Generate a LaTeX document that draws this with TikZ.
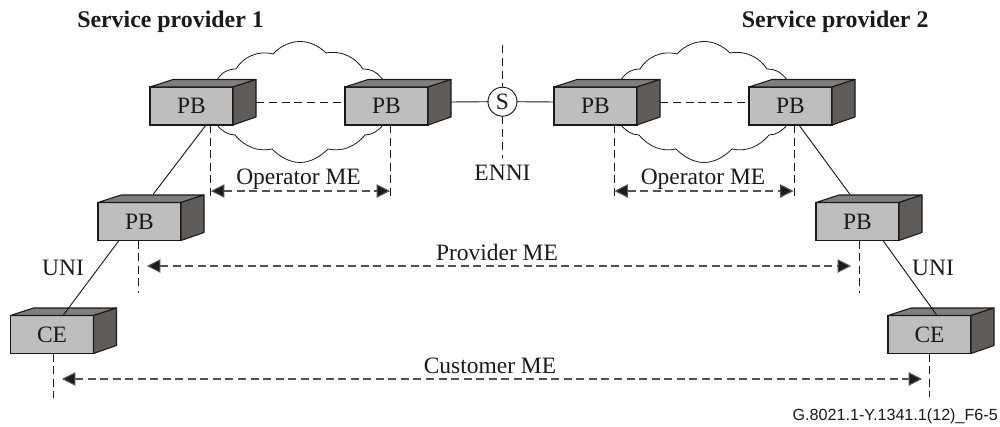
\documentclass[tikz,border=0pt]{standalone}
\usepackage{fontspec}
\setmainfont{Liberation Serif}
\newfontfamily\footfont{Liberation Sans}
\usetikzlibrary{arrows.meta}
\definecolor{frontc}{HTML}{BFBEBC}
\definecolor{sidec}{HTML}{5F5B58}
\definecolor{topc}{HTML}{807E7C}
\definecolor{inkc}{HTML}{1A1A1A}
\tikzset{
  boxfront/.style={draw=inkc,fill=frontc,line width=.8pt,minimum width=62.25pt,minimum height=28.5pt,inner sep=0pt,outer sep=0pt,text=inkc,font=\fontsize{17.6}{20}\selectfont},
  boxface/.style={draw=inkc,line width=.8pt,line join=round},
  solidlink/.style={draw=inkc,line width=.7pt},
  dashlink/.style={draw=inkc,line width=.75pt,dash pattern=on 6pt off 3.6pt},
  extent/.style={draw=inkc,line width=.75pt,dash pattern=on 6pt off 3.4pt},
  measure/.style={draw=inkc!75,line width=.8pt,dash pattern=on 6pt off 3.4pt,{Triangle[length=10pt,width=10pt,fill=inkc]}-{Triangle[length=10pt,width=10pt,fill=inkc]}},
  label/.style={font=\fontsize{17.6}{20}\selectfont,text=inkc,anchor=base,inner sep=0pt},
  title/.style={font=\fontsize{17.9}{20}\selectfont\bfseries,text=inkc,anchor=base west,inner sep=0pt},
  cloudline/.style={draw=inkc,line width=.6pt},
  ennicircle/.style={circle,draw=inkc,fill=white,line width=.7pt,minimum size=21.75pt,inner sep=0pt,outer sep=0pt,font=\fontsize{17.6}{20}\selectfont,text=inkc}
}
\newcommand{\dbox}[4]{%
  \node[boxfront] (#1) at (#2,#3) {#4};
  \filldraw[boxface,fill=topc] (#1.north west) -- ([shift={(23,-7.5)}]#1.north west) -- ([shift={(23,-7.5)}]#1.north east) -- (#1.north east) -- cycle;
  \filldraw[boxface,fill=sidec] (#1.north east) -- ([shift={(23,-7.5)}]#1.north east) -- ([shift={(23,-8)}]#1.south east) -- (#1.south east) -- cycle;
}
\newcommand{\cloudpath}[2]{%
  \draw[cloudline,shift={(#1,#2)}] (217,80) .. controls (222,72) and (228,69) .. (236,69)
   .. controls (243,57) and (258,50) .. (273,54)
   .. controls (281,45) and (292,41.5) .. (300,41.5)
   .. controls (310,41.5) and (319,46) .. (326,53)
   .. controls (342,50) and (356,58) .. (363,69)
   .. controls (372,69) and (378,73) .. (383,80)
   -- (383,125)
   .. controls (378,131) and (372,135) .. (365,135)
   .. controls (355,147) and (342,152) .. (328,149)
   .. controls (320,157) and (310,162.5) .. (300,162.5)
   .. controls (290,162.5) and (280,157) .. (272,149)
   .. controls (258,152) and (245,147) .. (235,135)
   .. controls (228,135) and (222,131) .. (217,125) -- cycle;
}
\begin{document}
\begin{tikzpicture}[x=.75pt,y=-.75pt]
\useasboundingbox (0,0) rectangle (1000,426);
\fill[white] (0,0) rectangle (1000,426);
\cloudpath{0}{0}
\cloudpath{404}{0}
\dbox{pba}{191.5}{106}{PB}
\dbox{pbb}{386.5}{106}{PB}
\dbox{pbc}{595.5}{106}{PB}
\dbox{pbd}{790.5}{106}{PB}
\dbox{pbl}{139.5}{221.5}{PB}
\dbox{pbr}{857.5}{221.5}{PB}
\dbox{cel}{52}{334.5}{CE}
\dbox{cer}{929.5}{334.5}{CE}
\node[ennicircle] (s) at (502.5,101.7) {S};
% ENNI reference line
\coordinate (ennitop) at (502.5,45);
\coordinate (ennibot) at (502.5,158);
\draw[dashlink] (ennitop) -- (s.north);
\draw[dashlink] (s.south) -- (ennibot);
% links
\draw[solidlink] ([shift={(23,-4)}]pbb.east) -- (s.west);
\draw[solidlink] (s.east) -- ([shift={(0,-4)}]pbc.west);
\draw[dashlink] ([shift={(23,-4)}]pba.east) -- ([shift={(0,-4)}]pbb.west);
\draw[dashlink] ([shift={(23,-4)}]pbc.east) -- ([shift={(0,-4)}]pbd.west);
\draw[solidlink] ([shift={(14.5,0)}]pba.south) -- ([shift={(13.5,-8)}]pbl.north);
\draw[solidlink] ([shift={(-20.5,0)}]pbl.south) -- ([shift={(11,0)}]cel.north);
\draw[solidlink] ([shift={(8.5,0)}]pbd.south) -- ([shift={(-7.5,-8)}]pbr.north);
\draw[solidlink] ([shift={(25.5,0)}]pbr.south) -- ([shift={(7.5,0)}]cer.north);
% extent lines
\coordinate (opa) at (210.5,198); \coordinate (opb) at (390.5,198);
\coordinate (opc) at (614,198); \coordinate (opd) at (794,198);
\coordinate (prl) at (138.5,293); \coordinate (prr) at (859,293);
\coordinate (cul) at (53,398); \coordinate (cur) at (929,397);
\draw[extent] (pba.south -| opa) -- (opa);
\draw[extent] (pbb.south -| opb) -- (opb);
\draw[extent] (pbc.south -| opc) -- (opc);
\draw[extent] (pbd.south -| opd) -- (opd);
\draw[extent] (pbl.south -| prl) -- (prl);
\draw[extent] (pbr.south -| prr) -- (prr);
\draw[extent] (cel.south -| cul) -- (cul);
\draw[extent] (cer.south -| cur) -- (cur);
% measures
\coordinate (ma1) at (211,191); \coordinate (ma2) at (390,191);
\coordinate (mb1) at (614.5,191); \coordinate (mb2) at (793.5,191);
\coordinate (mc1) at (147,266); \coordinate (mc2) at (851,266);
\coordinate (md1) at (62,379); \coordinate (md2) at (922,379);
\draw[measure] (ma1) -- (ma2);
\draw[measure] (mb1) -- (mb2);
\draw[measure] (mc1) -- (mc2);
\draw[measure] (md1) -- (md2);
% labels
\node[title] (t1) at (77,27) {Service provider 1};
\node[title] (t2) at (741.7,27) {Service provider 2};
\node[label] (l1) at (298.5,184) {Operator ME};
\node[label] (l2) at (703,184) {Operator ME};
\node[label] (l3) at (497,260) {Provider ME};
\node[label] (l4) at (490,373) {Customer ME};
\node[label] (l5) at (502.5,180) {ENNI};
\node[label] (l6) at (63,275) {UNI};
\node[label] (l7) at (933,275) {UNI};
\node[anchor=base east,inner sep=0pt,font=\footfont\fontsize{12.1}{14}\selectfont,text=inkc] (fn) at (998,420.5) {G.8021.1-Y.1341.1(12)\_F6-5};
\end{tikzpicture}
\end{document}
